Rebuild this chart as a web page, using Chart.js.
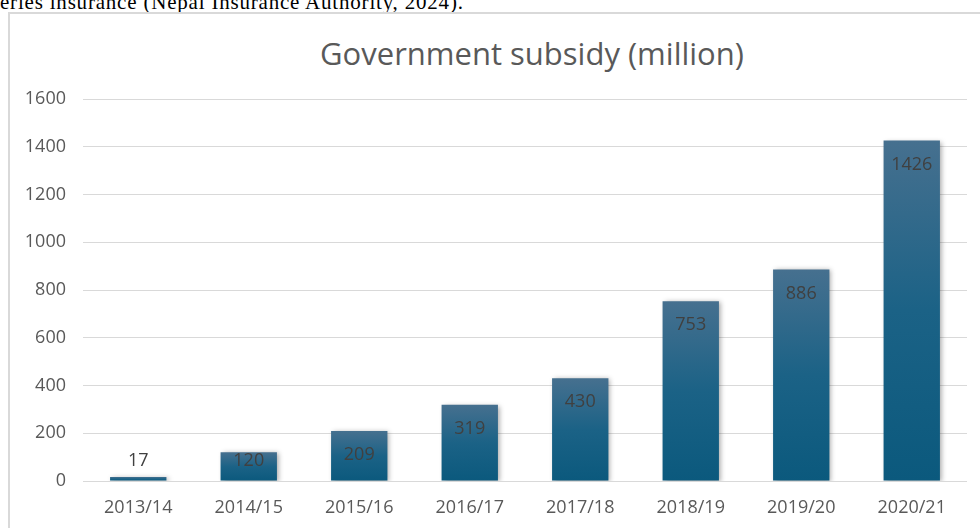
<!DOCTYPE html>
<html>
<head>
<meta charset="utf-8">
<script src="https://cdn.jsdelivr.net/npm/chart.js@4"></script>
<style>
  html, body { margin:0; padding:0; background:#fff; overflow:hidden; }
  body { width:980px; height:528px; position:relative; }
  #note { position:absolute; left:0; top:-10px; font-family:"Liberation Serif", serif; font-size:21px; letter-spacing:0.8px; color:#000; white-space:nowrap; }
  #frame { position:absolute; left:8px; top:12px; width:1100px; height:600px; border:2px solid #d9d9d9; box-sizing:border-box; }
  #title { position:absolute; left:0; width:1064px; top:32px; text-align:center; font-family:"Open Sans", sans-serif; font-size:31px; color:#595959; }
  #wrap { position:absolute; left:0; top:0; width:980px; height:528px; }
</style>
</head>
<body>
<div id="note">eries insurance (Nepal Insurance Authority, 2024).</div>
<div id="frame"></div>
<div id="title">Government subsidy (million)</div>
<div id="wrap"><canvas id="chart1"></canvas></div>
<script>
let years = ["2013/14","2014/15","2015/16","2016/17","2017/18","2018/19","2019/20","2020/21"];
let subsidy = [17,120,209,319,430,753,886,1426];
let yTicks = [0,200,400,600,800,1000,1200,1400,1600];

let font = "'Open Sans', sans-serif";

function barFill(ctx){
  let chart = ctx.chart;
  let y = chart.scales.y;
  if(!y || ctx.raw === undefined) return "#1a6286";
  let top = y.getPixelForValue(ctx.raw);
  let base = y.getPixelForValue(0);
  if(!isFinite(top) || !isFinite(base) || base - top < 1) return "#1a6286";
  let g = chart.ctx.createLinearGradient(0, top, 0, base);
  g.addColorStop(0, "#46708f");
  g.addColorStop(0.5, "#1b6286");
  g.addColorStop(1, "#0b597d");
  return g;
}

let shadow = {
  id:"shadow",
  beforeDatasetsDraw(chart){
    let c = chart.ctx;
    c.save();
    c.shadowColor = "rgba(0,0,0,0.35)";
    c.shadowBlur = 5;
    c.shadowOffsetX = 2;
    c.shadowOffsetY = 1;
  },
  afterDatasetsDraw(chart){
    chart.ctx.restore();
  }
};

let labels = {
  id:"labels",
  afterDatasetsDraw(chart){
    let c = chart.ctx;
    let meta = chart.getDatasetMeta(0);
    c.save();
    c.font = "18px " + font;
    c.fillStyle = "#404040";
    c.textAlign = "center";
    c.textBaseline = "middle";
    meta.data.forEach((bar, i) => {
      let h = bar.base - bar.y;
      let ty;
      if(h < 25) ty = bar.y - 16;
      else ty = Math.min(bar.y + 24, bar.base - 20);
      c.fillText(String(subsidy[i]), bar.x, ty);
    });
    c.restore();
  }
};

let chart1 = new Chart(document.getElementById("chart1"), {
  type:"bar",
  data:{
    labels:years,
    datasets:[{
      label:"Government subsidy (million)",
      data:subsidy,
      backgroundColor:barFill,
      borderWidth:0,
      barPercentage:0.51,
      categoryPercentage:1
    }]
  },
  options:{
    responsive:true,
    maintainAspectRatio:false,
    animation:false,
    layout:{padding:{top:99, right:13, left:0, bottom:0}},
    plugins:{legend:{display:false}, title:{display:false}, tooltip:{enabled:false}},
    scales:{
      x:{
        grid:{display:false, drawTicks:false},
        border:{display:false},
        ticks:{color:"#595959", font:{family:font, size:18}, padding:16, maxRotation:0},
        afterFit(s){ s.height = 47; }
      },
      y:{
        min:0, max:1600,
        afterBuildTicks(s){ s.ticks = yTicks.map(v => ({value:v})); },
        grid:{color:"#d9d9d9", lineWidth:1, drawTicks:false},
        border:{display:false},
        ticks:{color:"#595959", font:{family:font, size:18}, padding:17, callback:v => String(v)},
        afterFit(s){ s.width = 83; }
      }
    }
  },
  plugins:[shadow, labels]
});
</script>
</body>
</html>
